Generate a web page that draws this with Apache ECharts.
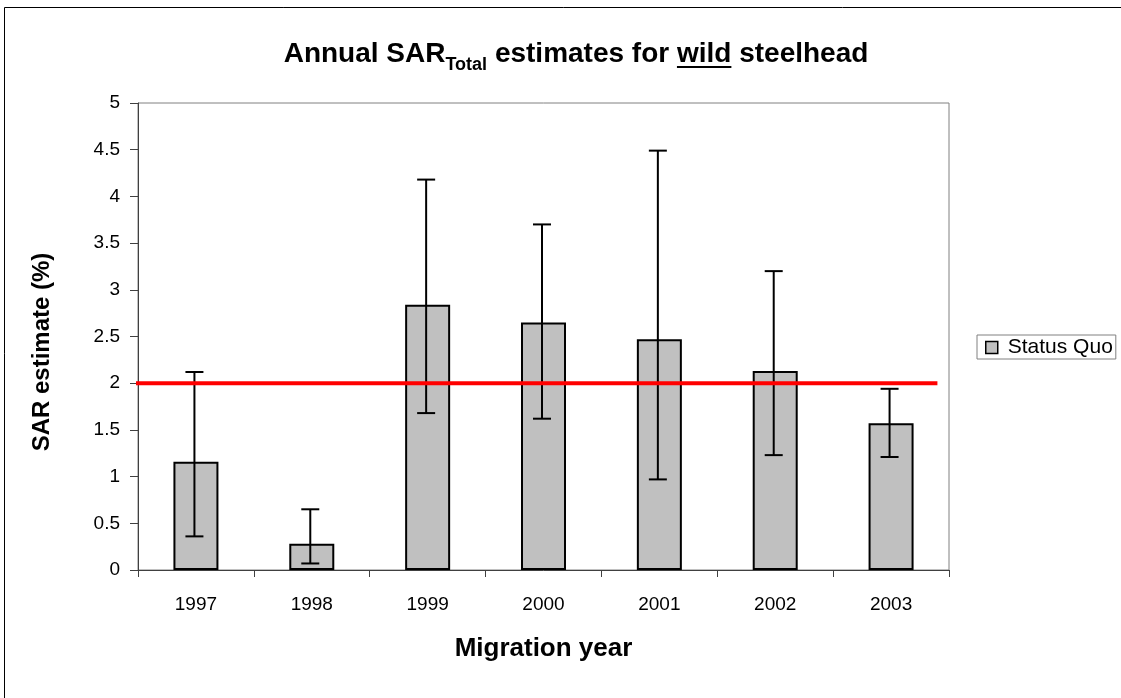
<!DOCTYPE html>
<html><head><meta charset="utf-8">
<script src="https://cdn.jsdelivr.net/npm/echarts@6/dist/echarts.min.js"></script>
<style>html,body{margin:0;padding:0;background:#fff}#c{width:1121px;height:698px}</style>
</head><body><div id="c"></div>
<script>
// ---- data ----
const years = ['1997', '1998', '1999', '2000', '2001', '2002', '2003'];
const sarEstimate = [1.16, 0.28, 2.84, 2.65, 2.47, 2.13, 1.57];
const ciLower = [0.36, 0.07, 1.68, 1.62, 0.97, 1.23, 1.21];
const ciUpper = [2.12, 0.65, 4.18, 3.70, 4.49, 3.20, 1.94];
const targetSAR = 2;
const seriesName = 'Status Quo';
const xAxisTitle = 'Migration year';
const yAxisTitle = 'SAR estimate (%)';

// ---- styling constants ----
const FONT = '"Liberation Sans", Arial, sans-serif';
const targetLineExtent = [-0.06, 6.9]; // in category units along hidden axis

const chart = echarts.init(document.getElementById('c'), null, {renderer: 'canvas'});

// Title built from text pieces (subscript + underline)
const cv = document.createElement('canvas').getContext('2d');
const titlePieces = [
  {t: 'Annual SAR', size: 28, dy: 0},
  {t: 'Total', size: 18, dy: 6},
  {t: ' estimates for ', size: 28, dy: 0},
  {t: 'wild', size: 28, dy: 0, underline: true},
  {t: ' steelhead', size: 28, dy: 0}
];
const widths = titlePieces.map(p => { cv.font = 'bold ' + p.size + 'px ' + FONT; return cv.measureText(p.t).width; });
const totalW = widths.reduce((a, b) => a + b, 0);
const titleCenter = 576, titleBottom = 68;
let cx = titleCenter - totalW / 2;
const titleGraphics = [];
titlePieces.forEach((p, i) => {
  titleGraphics.push({
    type: 'text', x: cx, y: titleBottom + p.dy,
    style: {text: p.t, font: 'bold ' + p.size + 'px ' + FONT, fill: '#000', verticalAlign: 'bottom', align: 'left'}
  });
  if (p.underline) {
    titleGraphics.push({type: 'rect', shape: {x: cx, y: titleBottom - 2, width: widths[i], height: 2}, style: {fill: '#000'}});
  }
  cx += widths[i];
});

const option = {
  animation: false,
  backgroundColor: '#fff',
  textStyle: {fontFamily: FONT},
  grid: {left: 138, right: 172, top: 103, bottom: 128, show: true, borderColor: '#808080', borderWidth: 1, containLabel: false},
  legend: {
    data: [seriesName], left: 977, top: 335,
    borderColor: '#808080', borderWidth: 1, padding: [2, 3, 1, 8],
    itemWidth: 12, itemHeight: 12, icon: 'rect',
    itemStyle: {color: '#C0C0C0', borderColor: '#000', borderWidth: 1.5},
    textStyle: {fontSize: 21, color: '#000', fontFamily: FONT, padding: [0, 0, 0, 5]}
  },
  xAxis: [{
    type: 'category', data: years,
    axisLine: {lineStyle: {color: '#404040', width: 1}},
    axisTick: {show: true, length: 7, lineStyle: {color: '#404040'}},
    axisLabel: {fontSize: 19, color: '#000', margin: 25, fontFamily: FONT},
    name: xAxisTitle, nameLocation: 'middle', nameGap: 66,
    nameTextStyle: {fontSize: 26, fontWeight: 'bold', color: '#000', fontFamily: FONT},
    splitLine: {show: false}
  }, {
    type: 'value', min: 0, max: 7, show: false
  }],
  yAxis: {
    type: 'value', min: 0, max: 5, interval: 0.5,
    axisLine: {show: true, lineStyle: {color: '#404040', width: 1}},
    axisTick: {show: true, length: 8, lineStyle: {color: '#404040'}},
    axisLabel: {fontSize: 19, color: '#000', margin: 18, fontFamily: FONT},
    splitLine: {show: false}
  },
  series: [{
    name: seriesName, type: 'bar', data: sarEstimate, barWidth: 45,
    itemStyle: {color: '#C0C0C0', borderColor: '#000', borderWidth: 2}
  }, {
    type: 'custom', name: 'ci',
    data: years.map((y, i) => [i, ciLower[i], ciUpper[i]]),
    renderItem: function (params, api) {
      const i = api.value(0);
      const lo = api.coord([i, api.value(1)]);
      const hi = api.coord([i, api.value(2)]);
      const x = lo[0] - 1.5;
      const hw = 9;
      const st = {stroke: '#000', lineWidth: 2};
      return {type: 'group', children: [
        {type: 'line', shape: {x1: x, y1: lo[1], x2: x, y2: hi[1]}, style: st},
        {type: 'line', shape: {x1: x - hw, y1: lo[1], x2: x + hw, y2: lo[1]}, style: st},
        {type: 'line', shape: {x1: x - hw, y1: hi[1], x2: x + hw, y2: hi[1]}, style: st}
      ]};
    },
    z: 3
  }, {
    type: 'line', name: 'target', xAxisIndex: 1,
    data: [[targetLineExtent[0], targetSAR], [targetLineExtent[1], targetSAR]],
    symbol: 'none', clip: false,
    lineStyle: {color: '#FF0000', width: 4}, z: 4
  }],
  graphic: [
    {type: 'rect', shape: {x: 4.5, y: 7.5, width: 1300, height: 900}, style: {fill: 'none', stroke: '#000', lineWidth: 1}, z: 100},
    {type: 'text', x: 42, y: 352, rotation: Math.PI / 2,
     style: {text: yAxisTitle, font: 'bold 24px ' + FONT, fill: '#000', align: 'center', verticalAlign: 'middle'}}
  ].concat(titleGraphics)
};
chart.setOption(option);
</script>
</body></html>
